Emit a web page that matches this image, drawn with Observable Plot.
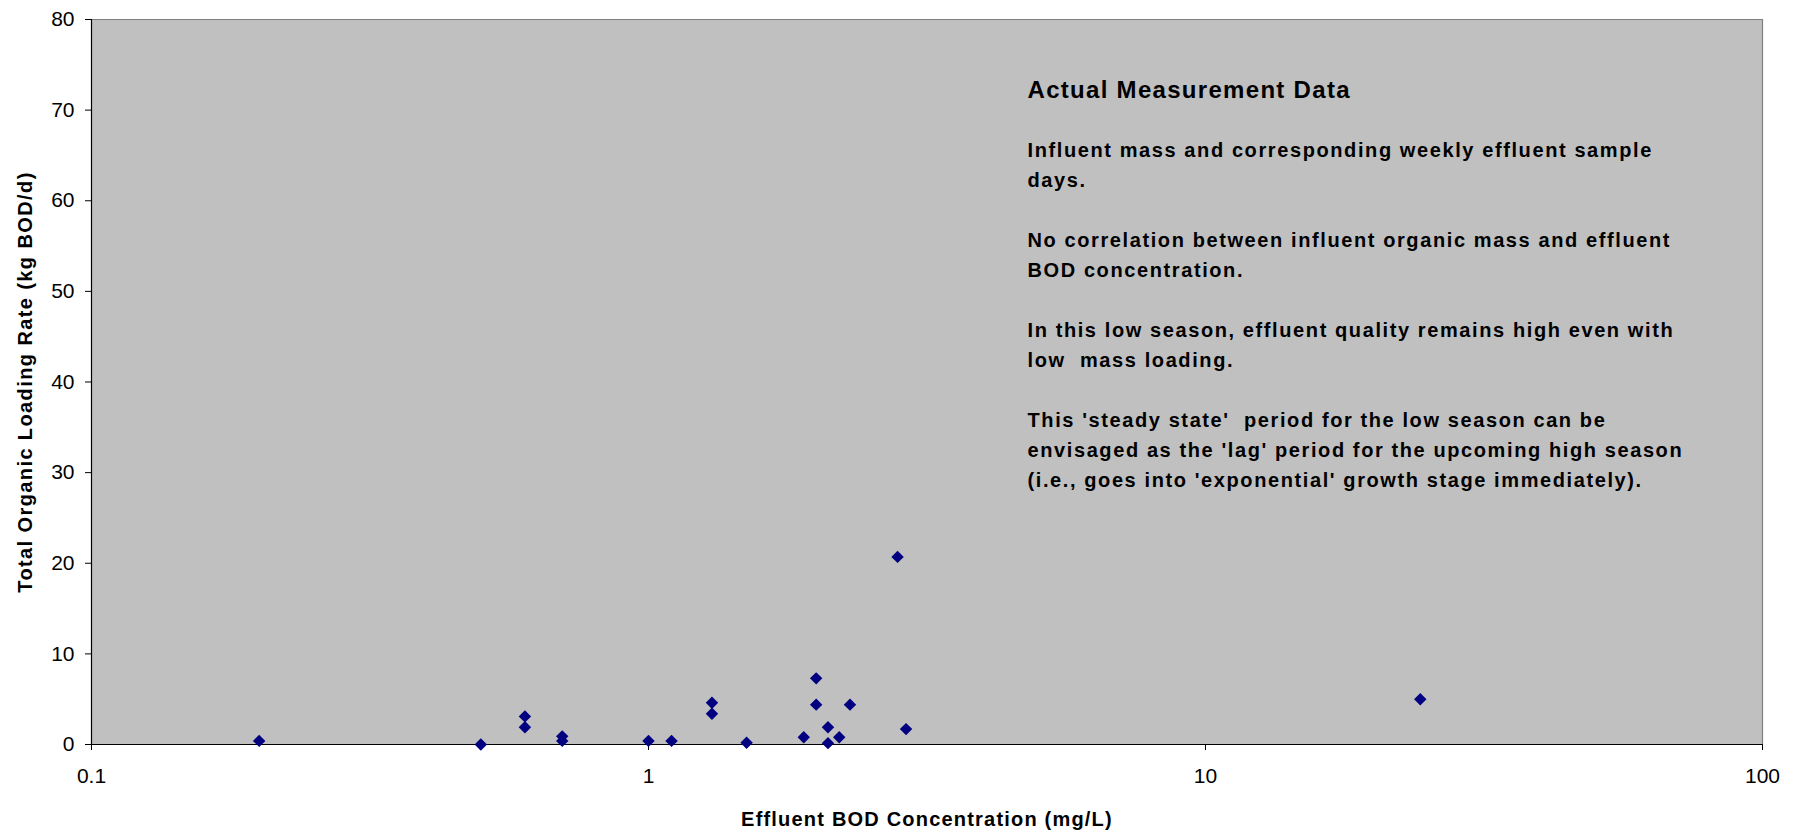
<!DOCTYPE html>
<html>
<head>
<meta charset="utf-8">
<script src="https://cdn.jsdelivr.net/npm/d3@7"></script>
<script src="https://cdn.jsdelivr.net/npm/@observablehq/plot@0.6"></script>
<style>
  html, body { margin: 0; padding: 0; background: #ffffff; }
  svg text { white-space: pre; }
</style>
</head>
<body>
<div id="chart"></div>
<script>
// ---- data ----
const effluentBOD = [0.2, 0.5, 0.6, 0.6, 0.7, 0.7, 1.0, 1.1, 1.3, 1.3, 1.5, 1.9, 2.0, 2.0, 2.1, 2.1, 2.2, 2.3, 2.8, 2.9, 24.3];
const organicLoad = [0.4, 0.0, 3.1, 1.9, 0.9, 0.4, 0.4, 0.4, 4.6, 3.4, 0.2, 0.8, 7.3, 4.4, 1.9, 0.15, 0.8, 4.4, 20.7, 1.7, 5.0];

const xTicks = [0.1, 1, 10, 100];
const yTicks = [0, 10, 20, 30, 40, 50, 60, 70, 80];

const xTitle = "Effluent BOD Concentration (mg/L)";
const yTitle = "Total Organic Loading Rate (kg BOD/d)";
const noteTitle = "Actual Measurement Data";
const noteLines = [
  "Influent mass and corresponding weekly effluent sample",
  "days.",
  "",
  "No correlation between influent organic mass and effluent",
  "BOD concentration.",
  "",
  "In this low season, effluent quality remains high even with",
  "low  mass loading.",
  "",
  "This 'steady state'  period for the low season can be",
  "envisaged as the 'lag' period for the upcoming high season",
  "(i.e., goes into 'exponential' growth stage immediately)."
];

const points = effluentBOD.map((x, i) => ({x, y: organicLoad[i]}));
const noteText = noteLines.join("\n");

const chart = Plot.plot({
  width: 1799,
  height: 833,
  marginLeft: 91,
  marginRight: 37,
  marginTop: 19,
  marginBottom: 89,
  style: {
    fontFamily: "'Liberation Sans', Arial, sans-serif",
    fontSize: "21px",
    background: "#ffffff",
    color: "#000000",
    overflow: "visible"
  },
  x: {type: "log", domain: [0.1, 100]},
  y: {domain: [0, 80]},
  marks: [
    Plot.frame({fill: "#C0C0C0", stroke: null}),
    Plot.ruleY([80], {stroke: "#808080", strokeWidth: 1.2}),
    Plot.ruleX([100], {stroke: "#808080", strokeWidth: 1.2}),
    Plot.ruleX([0.1], {stroke: "#000000", strokeWidth: 1.2}),
    Plot.ruleY([0], {stroke: "#000000", strokeWidth: 1.2}),
    Plot.axisX({ticks: xTicks, tickFormat: d => String(d), tickSize: 6, tickPadding: 18, fontSize: 21, label: null}),
    Plot.axisY({ticks: yTicks, tickFormat: d => String(d), tickSize: 6, tickPadding: 11, fontSize: 21, label: null}),
    Plot.text([xTitle], {frameAnchor: "bottom", dy: 81, lineAnchor: "bottom", textAnchor: "middle", fontSize: 20, fontWeight: "bold", fill: "#000000"}),
    Plot.text([yTitle], {frameAnchor: "left", dx: -60, rotate: -90, lineAnchor: "bottom", textAnchor: "middle", fontSize: 20, fontWeight: "bold", fill: "#000000"}),
    Plot.text([noteTitle], {frameAnchor: "top-left", dx: 936, dy: 78, lineAnchor: "bottom", textAnchor: "start", fontSize: 24, fontWeight: "bold", fill: "#000000"}),
    Plot.text([noteText], {frameAnchor: "top-left", dx: 936, dy: 116.4, lineAnchor: "top", textAnchor: "start", fontSize: 20, lineHeight: 1.5, fontWeight: "bold", fill: "#000000"}),
    Plot.dot(points, {x: "x", y: "y", symbol: "diamond2", r: 5.6, fill: "#000080", stroke: null})
  ]
});

// letter spacing to mimic the original rendering
chart.querySelectorAll("text").forEach(t => {
  const s = t.textContent;
  if (s === xTitle) t.style.letterSpacing = "1.2px";
  else if (s === yTitle) t.style.letterSpacing = "1.4px";
  else if (s === noteTitle) t.style.letterSpacing = "1.3px";
  else if (s === noteLines.join("")) t.style.letterSpacing = "1.6px";
});

document.getElementById("chart").appendChild(chart);
</script>
</body>
</html>
